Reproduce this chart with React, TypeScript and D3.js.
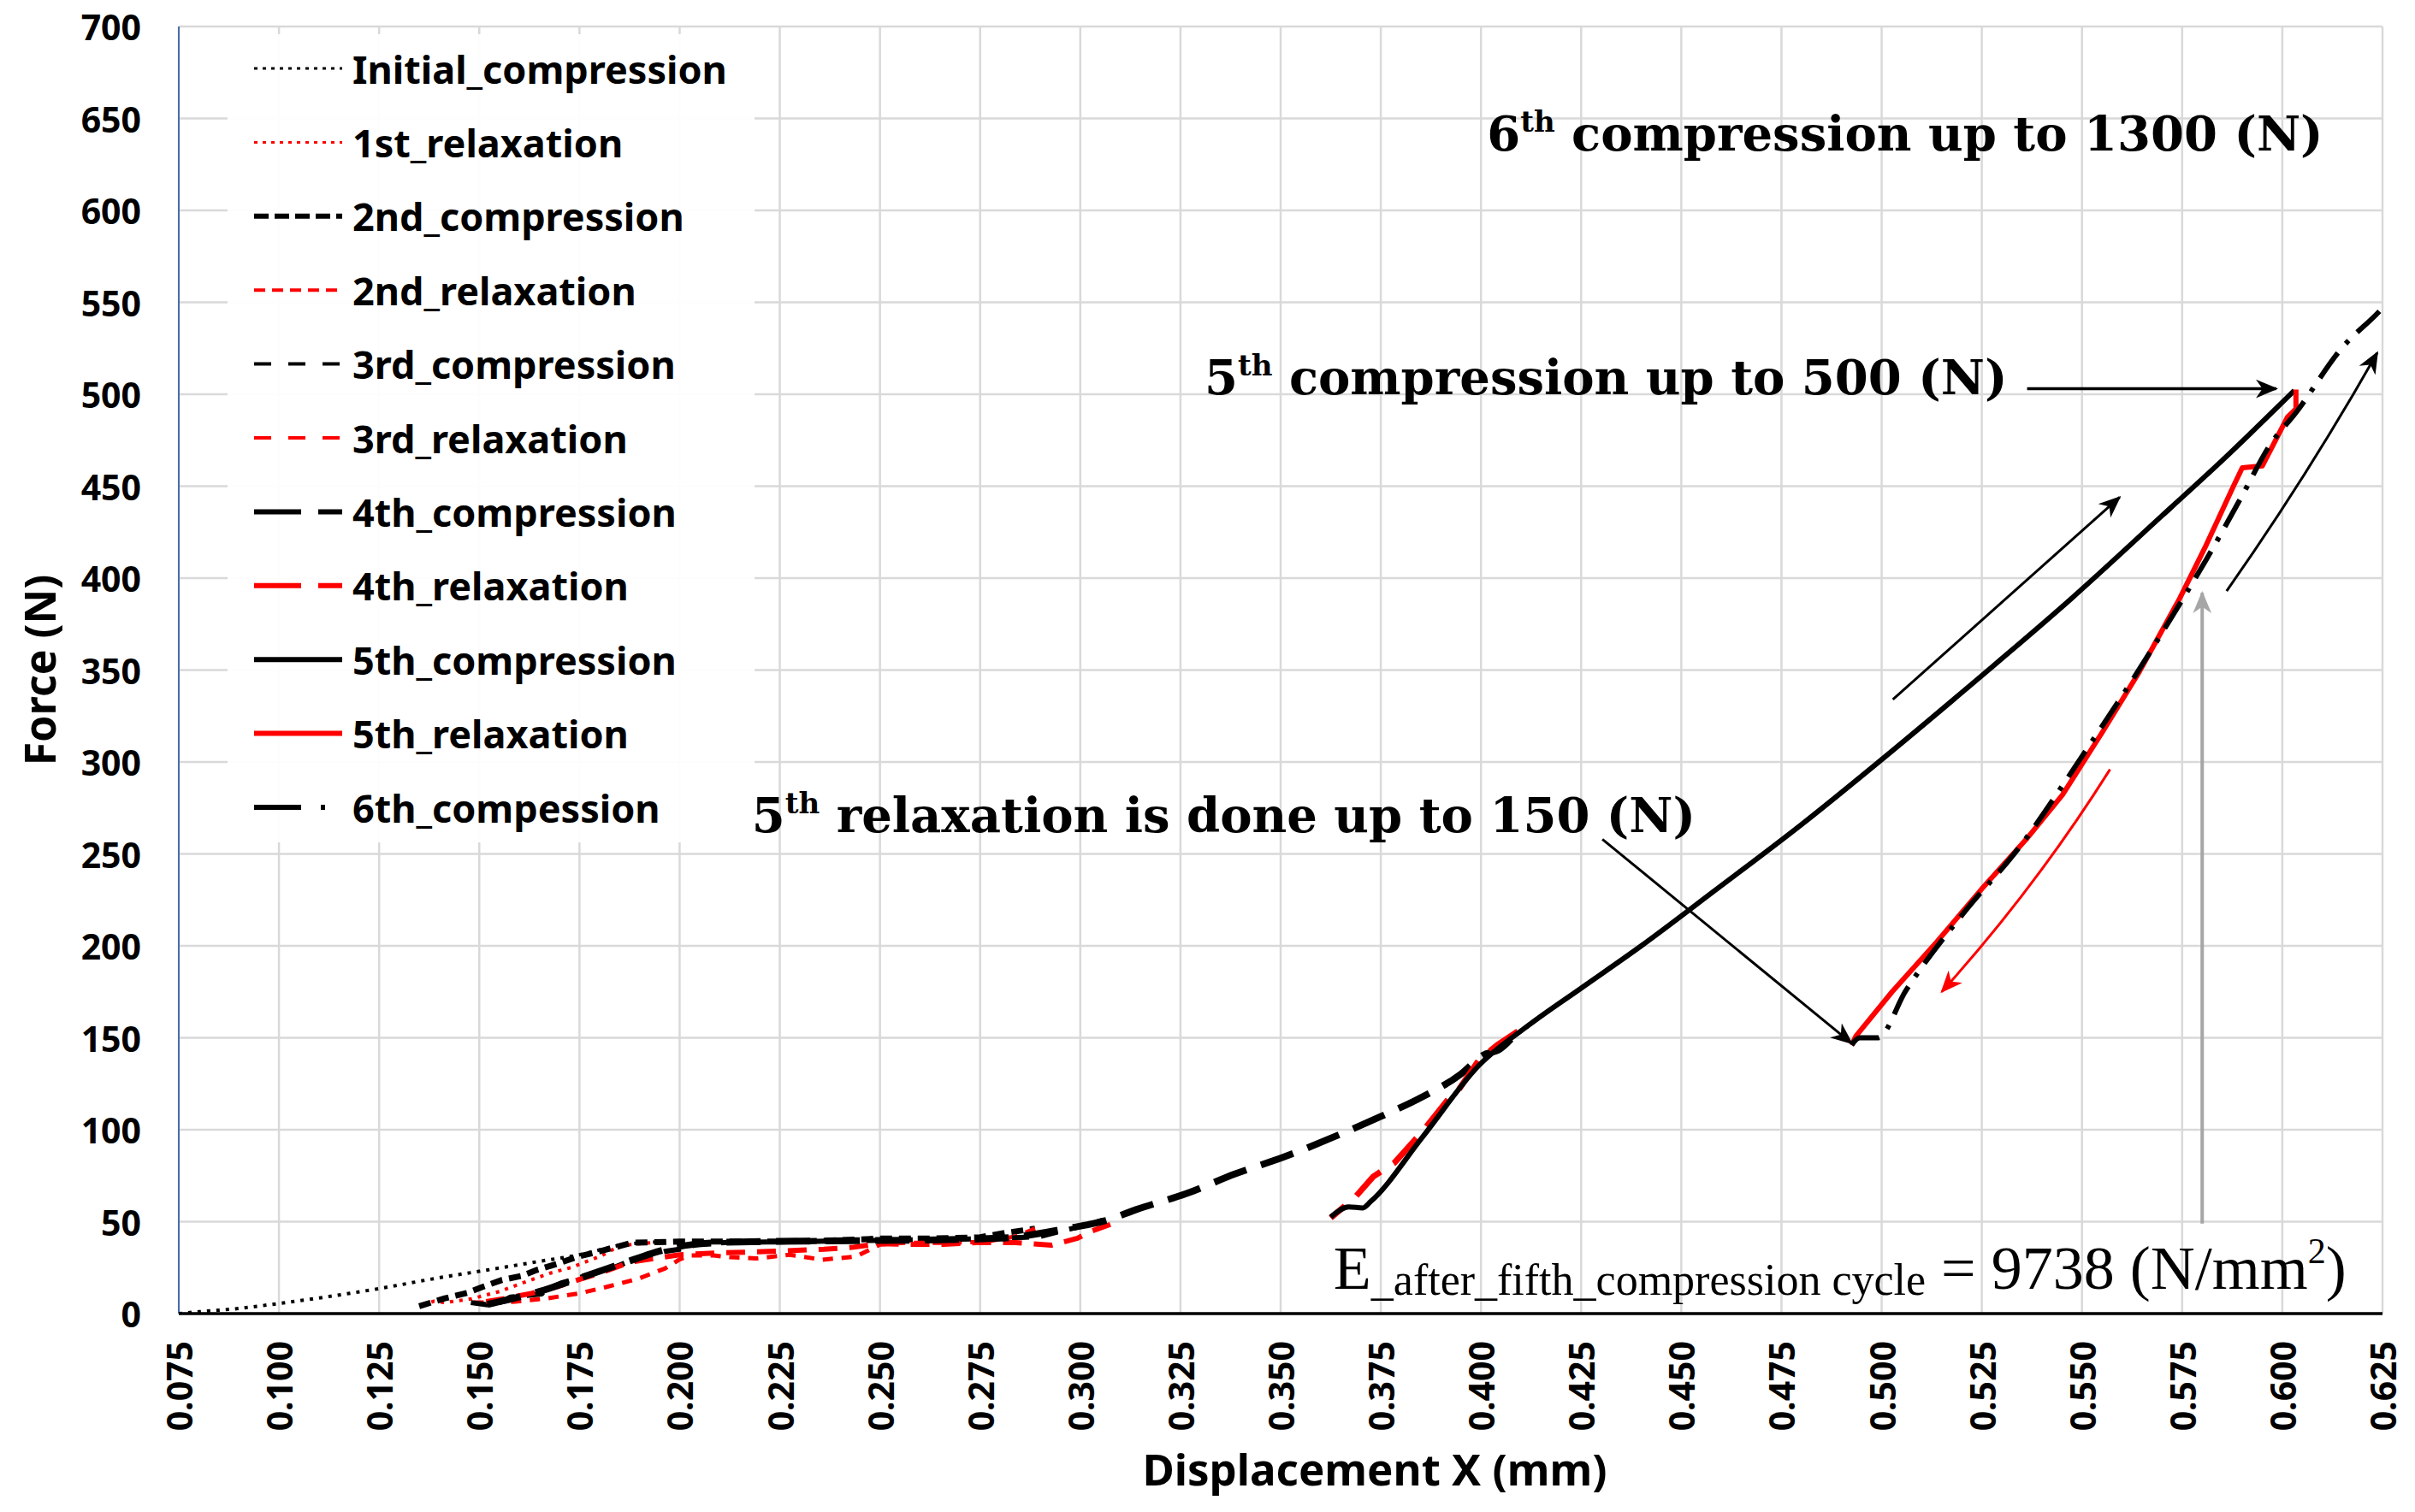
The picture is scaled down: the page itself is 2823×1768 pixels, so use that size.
import * as d3 from 'd3';
import React from 'react';

// Force (N) vs displacement (mm) readings, one array per loading step
const initialCompression = [[0.075, 0], [0.080, 1], [0.090, 2.8], [0.100, 5.5], [0.110, 8.5], [0.125, 13.6], [0.140, 19.5], [0.150, 23], [0.165, 28.4], [0.175, 32], [0.186, 37.5], [0.195, 39]];
const relaxation1 = [[0.195, 39], [0.185, 37], [0.1806, 31.5], [0.1728, 25], [0.1677, 22], [0.162, 17.6], [0.155, 12], [0.148, 8], [0.1414, 6], [0.1386, 6.7], [0.135, 4]];
const compression2 = [[0.135, 4], [0.1414, 8.3], [0.147, 11.3], [0.1507, 14.4], [0.1557, 18.3], [0.1607, 20.6], [0.1643, 23.7], [0.1693, 27], [0.1742, 30.7], [0.1785, 33], [0.1827, 35.4], [0.1881, 38.5], [0.200, 39.2], [0.2126, 39.2], [0.225, 39.2], [0.2372, 39.7], [0.250, 40.8], [0.2617, 40.8], [0.275, 41.5], [0.2813, 43.9], [0.2887, 46.2]];
const relaxation2 = [[0.2887, 46.2], [0.284, 42], [0.276, 39], [0.266, 38.5], [0.256, 38.5], [0.250, 37.5], [0.244, 31], [0.2355, 29.3], [0.2274, 32], [0.2192, 30], [0.2126, 30.7], [0.2085, 31.6], [0.2028, 31.6], [0.200, 29.5], [0.1963, 24.5], [0.1897, 19], [0.1816, 14.4], [0.175, 11], [0.167, 8.3], [0.159, 6.5], [0.153, 6], [0.1479, 6]];
const compression3 = [[0.1479, 6], [0.1536, 4.3], [0.1578, 9], [0.1656, 10.7], [0.1664, 13], [0.1707, 16.8], [0.1742, 19], [0.1785, 22], [0.1835, 25], [0.1865, 27.6], [0.1914, 30.7], [0.1963, 33.8], [0.200, 35], [0.2044, 37.7], [0.2126, 38.8], [0.225, 39], [0.240, 39.5], [0.255, 40], [0.270, 40.5], [0.2813, 41], [0.290, 42], [0.2993, 47], [0.3058, 50.9]];
const relaxation3 = [[0.3075, 48.5], [0.3026, 44.7], [0.2993, 41], [0.2928, 37.2], [0.2838, 38.6], [0.274, 38.6], [0.2658, 37.7], [0.2576, 37.7], [0.2497, 38], [0.243, 36], [0.236, 35], [0.225, 34], [0.210, 33], [0.200, 32], [0.1878, 28], [0.180, 22], [0.1756, 19], [0.170, 15], [0.163, 11], [0.156, 8], [0.150, 6]];
const compression4 = [[0.152, 5], [0.158, 8], [0.165, 12], [0.172, 17], [0.180, 23], [0.188, 29], [0.195, 34], [0.203, 37.5], [0.215, 39], [0.235, 39.5], [0.260, 40], [0.280, 41], [0.2974, 46.6], [0.3062, 50.5], [0.3141, 56.7], [0.3264, 65.2], [0.3387, 76], [0.351, 85.3], [0.3634, 96.2], [0.3748, 107], [0.3854, 117.9], [0.395, 130.3], [0.4004, 140.4], [0.4048, 144], [0.4092, 153.5]];
const relaxation4 = [[0.4092, 153.5], [0.404, 146], [0.3995, 138], [0.3942, 121], [0.3916, 116], [0.3854, 99], [0.3784, 82], [0.3731, 74.5], [0.3687, 63.6], [0.3625, 52]];
const compression5 = [[0.3625, 52.5], [0.367, 58], [0.3705, 57.5], [0.3725, 61], [0.3854, 96], [0.3995, 135], [0.412, 157], [0.425, 177], [0.440, 200], [0.4577, 229], [0.480, 266], [0.5026, 306], [0.525, 347], [0.5474, 389], [0.570, 434], [0.585, 464], [0.603, 502]];
const relaxation5 = [[0.6034, 502.6], [0.6034, 492], [0.6013, 487.6], [0.595, 461], [0.590, 460], [0.5878, 450], [0.581, 418], [0.5744, 389], [0.5643, 349], [0.5553, 317], [0.5451, 282], [0.5361, 258], [0.525, 231], [0.5137, 202], [0.5026, 175], [0.4936, 151], [0.4925, 146]];
const compression6 = [[0.4925, 146], [0.4945, 150], [0.499, 150], [0.506, 175.5], [0.5205, 218], [0.534, 252.6], [0.5509, 306], [0.563, 346], [0.5744, 386], [0.581, 410], [0.590, 445], [0.5968, 472], [0.6034, 490], [0.6148, 525], [0.6248, 546.5], [0.627, 552]];

const seriesNames = ['Initial_compression', '1st_relaxation', '2nd_compression', '2nd_relaxation', '3rd_compression', '3rd_relaxation', '4th_compression', '4th_relaxation', '5th_compression', '5th_relaxation', '6th_compession'];
const seriesData = [initialCompression, relaxation1, compression2, relaxation2, compression3, relaxation3, compression4, relaxation4, compression5, relaxation5, compression6];

const xTickValues = [0.075, 0.1, 0.125, 0.15, 0.175, 0.2, 0.225, 0.25, 0.275, 0.3, 0.325, 0.35, 0.375, 0.4, 0.425, 0.45, 0.475, 0.5, 0.525, 0.55, 0.575, 0.6, 0.625];
const yTickValues = [0, 50, 100, 150, 200, 250, 300, 350, 400, 450, 500, 550, 600, 650, 700];

// annotation arrows, in data units
const arrowTo500 = [[0.5363, 503], [0.5985, 503]];
const arrowTo150 = [[0.4303, 258], [0.4925, 147]];
const arrowUp = [[0.5028, 334], [0.5594, 444]];
const arrowRight = [[0.5861, 393], [0.6237, 522.6]];
const arrowRed = [[0.557, 296], [0.515, 175]];
const arrowGray = [[0.58, 49], [0.58, 392]];

// line styles for plot and legend sample
const styles = [
  { color: '#000', w: 4, dash: '4 7', lw: 3, ldash: '4 6', smooth: true },
  { color: '#ff0000', w: 4, dash: '4 7', lw: 3, ldash: '4 6', smooth: false },
  { color: '#000', w: 7, dash: '14 8', lw: 6, ldash: '17 7', smooth: false },
  { color: '#ff0000', w: 5, dash: '12 10', lw: 4, ldash: '13 8', smooth: false },
  { color: '#000', w: 6, dash: '20 14', lw: 4, ldash: '20 20', smooth: false },
  { color: '#ff0000', w: 6, dash: '22 14', lw: 4, ldash: '20 20', smooth: false },
  { color: '#000', w: 8, dash: '40 18', lw: 6, ldash: '55 20', smooth: true },
  { color: '#ff0000', w: 7, dash: '40 18', lw: 6, ldash: '55 20', smooth: false },
  { color: '#000', w: 6, dash: 'none', lw: 6, ldash: 'none', smooth: true },
  { color: '#ff0000', w: 6, dash: 'none', lw: 6, ldash: 'none', smooth: false },
  { color: '#000', w: 6, dash: '36 14 5 14', lw: 6, ldash: '55 23 5 28', smooth: true },
];

const sans = "'Noto Sans', 'DejaVu Sans', sans-serif";
const serif = "'DejaVu Serif', serif";
const times = "'Liberation Serif', serif";

export default function App() {
  const width = 2823;
  const height = 1768;
  const left = 209, right = 2785, top = 31, bottom = 1536;

  const x = d3.scaleLinear().domain([0.075, 0.625]).range([left, right]);
  const y = d3.scaleLinear().domain([0, 700]).range([bottom, top]);
  const line = d3.line<number[]>().x(d => x(d[0])).y(d => y(d[1]));
  const smoothLine = d3.line<number[]>().x(d => x(d[0])).y(d => y(d[1])).curve(d3.curveMonotoneX);

  const curved = (pts: number[][], bend: number) => {
    const [x1, y1] = [x(pts[0][0]), y(pts[0][1])];
    const [x2, y2] = [x(pts[1][0]), y(pts[1][1])];
    const mx = (x1 + x2) / 2, my = (y1 + y2) / 2;
    const len = Math.hypot(x2 - x1, y2 - y1);
    const nx = -(y2 - y1) / len, ny = (x2 - x1) / len;
    const p = d3.path();
    p.moveTo(x1, y1);
    p.quadraticCurveTo(mx + nx * bend, my + ny * bend, x2, y2);
    return p.toString();
  };

  const legendRowY = (i: number) => 80 + i * 86.4;

  return (
    <svg width={width} height={height} viewBox={`0 0 ${width} ${height}`}
      style={{ position: 'absolute', left: 0, top: 0, background: '#fff' }}>
      <defs>
        <clipPath id="plot"><rect x={left} y={top} width={right - left} height={bottom - top} /></clipPath>
        {[['hb', '#000'], ['hr', '#ff0000'], ['hg', '#a6a6a6']].map(([id, c]) => (
          <marker key={id} id={id} viewBox="0 0 12 12" refX="11" refY="6" markerWidth="26" markerHeight="26"
            markerUnits="userSpaceOnUse" orient="auto">
            <path d="M0,1 L12,6 L0,11 L3.5,6 Z" fill={c} />
          </marker>
        ))}
      </defs>
      <rect width={width} height={height} fill="#fff" />

      {/* grid */}
      <g stroke="#d9d9d9" strokeWidth={2.5}>
        {yTickValues.map(t => <line key={'gy' + t} x1={left} x2={right} y1={y(t)} y2={y(t)} />)}
        {xTickValues.map(t => <line key={'gx' + t} x1={x(t)} x2={x(t)} y1={top} y2={bottom} />)}
      </g>

      {/* axes */}
      <line x1={left} x2={left} y1={top} y2={bottom} stroke="#4a6ea9" strokeWidth={2} />
      <line x1={left} x2={right} y1={bottom} y2={bottom} stroke="#000" strokeWidth={3.5} />

      <g fontFamily={sans} fontWeight={700} fontSize={41} fill="#000">
        {yTickValues.map(t => (
          <text key={'ty' + t} x={165} y={y(t)} textAnchor="end" dominantBaseline="central">{t}</text>
        ))}
        {xTickValues.map(t => (
          <text key={'tx' + t} x={x(t)} y={1568} textAnchor="end" dominantBaseline="central"
            transform={`rotate(-90, ${x(t)}, 1568)`}>{t.toFixed(3)}</text>
        ))}
      </g>
      <text x={46} y={(top + bottom) / 2} transform={`rotate(-90, 46, ${(top + bottom) / 2})`}
        textAnchor="middle" dominantBaseline="central" fontFamily={sans} fontWeight={700} fontSize={50}>Force (N)</text>
      <text x={1607} y={1737} textAnchor="middle" fontFamily={sans} fontWeight={700} fontSize={51}>Displacement X (mm)</text>

      {/* legend */}
      <rect x={266} y={40} width={616} height={945} fill="#fff" opacity={0.95} />
      {seriesNames.map((name, i) => (
        <g key={'lg' + name}>
          <line x1={297} x2={400} y1={legendRowY(i)} y2={legendRowY(i)} stroke={styles[i].color}
            strokeWidth={styles[i].lw} strokeDasharray={styles[i].ldash} />
          <text x={412} y={legendRowY(i)} dominantBaseline="central" fontFamily={sans} fontWeight={700} fontSize={45}>{name}</text>
        </g>
      ))}

      {/* series */}
      <g clipPath="url(#plot)" fill="none">
        {seriesData.map((d, i) => (
          <path key={'s' + i} d={(styles[i].smooth ? smoothLine(d) : line(d)) || ''} stroke={styles[i].color}
            strokeWidth={styles[i].w} strokeDasharray={styles[i].dash} strokeLinejoin="round" />
        ))}
      </g>

      {/* annotation arrows */}
      <g fill="none">
        <path d={curved(arrowTo500, 0)} stroke="#000" strokeWidth={3.5} markerEnd="url(#hb)" />
        <path d={curved(arrowTo150, 0)} stroke="#000" strokeWidth={3} markerEnd="url(#hb)" />
        <path d={curved(arrowUp, 0)} stroke="#000" strokeWidth={3} markerEnd="url(#hb)" />
        <path d={curved(arrowRight, 8)} stroke="#000" strokeWidth={3} markerEnd="url(#hb)" />
        <path d={curved(arrowRed, -14)} stroke="#ff0000" strokeWidth={3} markerEnd="url(#hr)" />
        <path d={curved(arrowGray, 0)} stroke="#a6a6a6" strokeWidth={4} markerEnd="url(#hg)" />
      </g>

      {/* annotation texts */}
      <g fontFamily={serif} fontWeight={700} fill="#000">
        <text x={x(0.4015)} y={y(632.4)} fontSize={56}>6<tspan fontSize={34} dy={-22}>th</tspan><tspan dy={22}> compression up to 1300 (N)</tspan></text>
        <text x={x(0.331)} y={y(499.8)} fontSize={56}>5<tspan fontSize={34} dy={-22}>th</tspan><tspan dy={22}> compression up to 500 (N)</tspan></text>
        <text x={x(0.218)} y={y(262)} fontSize={56}>5<tspan fontSize={34} dy={-22}>th</tspan><tspan dy={22}> relaxation is done up to 150 (N)</tspan></text>
      </g>
      <text x={x(0.3632)} y={y(13.5)} fontFamily={times} fontSize={72} fill="#000">E<tspan fontSize={52} dy={7}>_after_fifth_compression cycle</tspan><tspan dy={-7}> = 9738 (N/mm</tspan><tspan fontSize={42} dy={-30}>2</tspan><tspan dy={30}>)</tspan></text>
    </svg>
  );
}
